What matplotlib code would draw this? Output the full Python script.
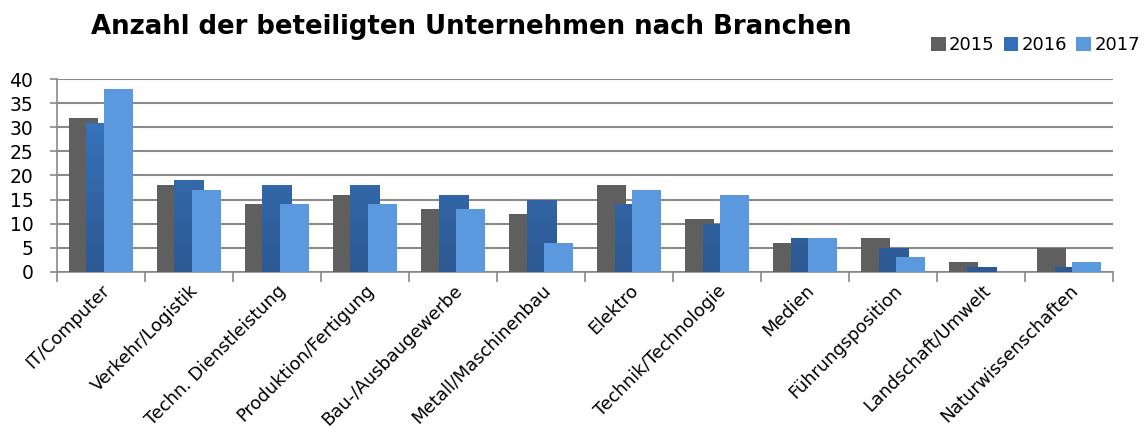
import numpy as np
import matplotlib

matplotlib.use("Agg")
import matplotlib.pyplot as plt
from matplotlib.patches import Patch
from matplotlib.colors import LinearSegmentedColormap

categories = [
    "IT/Computer",
    "Verkehr/Logistik",
    "Techn. Dienstleistung",
    "Produktion/Fertigung",
    "Bau-/Ausbaugewerbe",
    "Metall/Maschinenbau",
    "Elektro",
    "Technik/Technologie",
    "Medien",
    "Führungsposition",
    "Landschaft/Umwelt",
    "Naturwissenschaften",
]
years = ["2015", "2016", "2017"]
v2015 = [32, 18, 14, 16, 13, 12, 18, 11, 6, 7, 2, 5]
v2016 = [31, 19, 18, 18, 16, 15, 14, 10, 7, 5, 1, 1]
v2017 = [38, 17, 14, 14, 13, 6, 17, 16, 7, 3, 0, 2]

colors = ["#5f5f5f", "#3470b8", "#5b99de"]
grid_col = "#8a8a8a"

plt.rcParams["font.family"] = ["DejaVu Sans"]

fig = plt.figure(figsize=(11.44, 4.38), dpi=100)
ax = fig.add_axes([0.0498, 0.3797, 0.9232, 0.4394])

x = np.arange(len(categories))
width = 0.33
step = 0.2
bars = []
for i, (vals, col) in enumerate(zip([v2015, v2016, v2017], colors)):
    b = ax.bar(x + (i - 1) * step, vals, width, color=col, zorder=3 + i, linewidth=0)
    bars.append(b)

# vertical gradient on the 2016 bars (darker at the base)
grad = LinearSegmentedColormap.from_list("g16", ["#2c5993", "#3b79c4"])
for rect in bars[1]:
    x0, y0 = rect.get_x(), rect.get_y()
    w, h = rect.get_width(), rect.get_height()
    if h <= 0:
        continue
    im = ax.imshow(np.linspace(0, 1, 100).reshape(-1, 1), cmap=grad, origin="lower",
                   extent=[x0, x0 + w, 0, 40], aspect="auto", zorder=4.5)
    im.set_clip_path(rect)

ax.set_xlim(-0.5, len(categories) - 0.5)
ax.set_ylim(0, 40)
ax.set_yticks(np.arange(0, 41, 5))
ax.yaxis.grid(True, color=grid_col, linewidth=1.5, zorder=0)
ax.set_axisbelow(True)

ax.set_xticks(x)
ax.set_xticks(np.arange(-0.5, len(categories), 1.0), minor=True)
ax.tick_params(axis="x", which="major", length=0, pad=7)
ax.tick_params(axis="x", which="minor", length=7, color=grid_col, width=1.2)
ax.tick_params(axis="y", length=5, color=grid_col, width=1.2, labelsize=13.5, pad=12)
ax.set_xticklabels(categories, rotation=45, ha="right", rotation_mode="anchor",
                   fontsize=12.8)

for s in ["top", "right"]:
    ax.spines[s].set_visible(False)
for s in ["left", "bottom"]:
    ax.spines[s].set_color(grid_col)
    ax.spines[s].set_linewidth(1.2)

fig.text(0.412, 0.938, "Anzahl der beteiligten Unternehmen nach Branchen",
         ha="center", va="center", fontsize=18.7, fontweight="bold")

handles = [Patch(facecolor=c, edgecolor="none") for c in colors]
fig.legend(handles, years, loc="center right", bbox_to_anchor=(1.006, 0.897),
           ncol=3, frameon=False, fontsize=13, handlelength=0.8, handleheight=0.8,
           handletextpad=0.2, columnspacing=0.5, borderaxespad=0.2)

fig.savefig("out.png", dpi=100)
